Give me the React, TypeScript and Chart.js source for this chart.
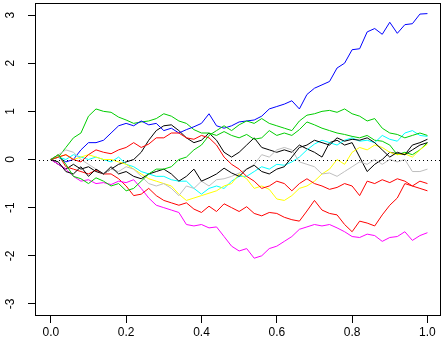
import React, { useEffect, useRef } from "react";
import { Chart, registerables } from "chart.js";

Chart.register(...registerables);

const tValues = [
  0, 0.02, 0.04, 0.06, 0.08, 0.1, 0.12, 0.14, 0.16, 0.18, 0.2, 0.22, 0.24, 0.26, 0.28, 0.3, 0.32, 0.34,
  0.36, 0.38, 0.4, 0.42, 0.44, 0.46, 0.48, 0.5, 0.52, 0.54, 0.56, 0.58, 0.6, 0.62, 0.64, 0.66, 0.68,
  0.7, 0.72, 0.74, 0.76, 0.78, 0.8, 0.82, 0.84, 0.86, 0.88, 0.9, 0.92, 0.94, 0.96, 0.98, 1.0,
];

const blackA = [
  0, -0.1, -0.2, -0.1, -0.2, -0.15, -0.25, -0.3, -0.2, -0.1, -0.05, 0.0, 0.15, 0.4, 0.6, 0.7, 0.72, 0.6,
  0.45, 0.35, 0.4, 0.55, 0.4, 0.15, 0.05, 0.15, 0.3, 0.45, 0.25, 0.2, 0.15, 0.2, 0.15, 0.3, 0.22,
  0.15, 0.05, 0.35, 0.4, 0.3, 0.35, 0.05, -0.25, -0.1, 0.0, 0.15, 0.12, 0.1, 0.3, 0.35, 0.42,
];
const redA = [
  0, 0.1, -0.15, -0.2, -0.25, -0.3, -0.22, -0.3, -0.3, -0.4, -0.55, -0.75, -0.72, -0.6, -0.75, -0.85, -0.9, -0.95,
  -0.9, -1.03, -1.1, -0.97, -1.08, -0.92, -1.0, -1.08, -0.98, -1.12, -1.17, -1.1, -1.12, -1.2, -1.25, -1.28, -1.07,
  -0.85, -1.05, -1.12, -1.15, -1.35, -1.5, -1.28, -1.32, -1.38, -1.15, -0.95, -0.8, -0.5, -0.55, -0.6, -0.65,
];
const greenA = [
  0, 0.05, 0.25, 0.45, 0.55, 0.9, 1.05, 1.0, 0.98, 0.88, 0.82, 0.75, 0.78, 0.8, 0.85, 0.95, 0.9, 0.8,
  0.75, 0.62, 0.55, 0.55, 0.5, 0.58, 0.5, 0.45, 0.52, 0.42, 0.45, 0.6, 0.5, 0.55, 0.5, 0.62, 0.78,
  0.72, 0.65, 0.6, 0.55, 0.52, 0.48, 0.45, 0.5, 0.4, 0.38, 0.3, 0.1, 0.15, 0.1, 0.2, 0.35,
];
const blue = [
  0, 0.05, -0.05, 0.0, 0.2, 0.35, 0.35, 0.4, 0.55, 0.7, 0.75, 0.7, 0.8, 0.72, 0.75, 0.6, 0.65, 0.55,
  0.62, 0.68, 0.75, 0.95, 0.7, 0.65, 0.7, 0.78, 0.8, 0.82, 0.9, 1.05, 1.1, 1.15, 1.22, 1.05, 1.35,
  1.48, 1.55, 1.62, 1.9, 2.0, 2.28, 2.3, 2.65, 2.72, 2.6, 2.85, 2.62, 2.8, 2.82, 3.02, 3.03,
];
const cyan = [
  0, 0.05, 0.0, 0.1, 0.05, 0.0, 0.05, 0.0, -0.05, 0.05, -0.1, -0.15, -0.25, -0.3, -0.35, -0.35, -0.42, -0.45,
  -0.45, -0.6, -0.72, -0.6, -0.55, -0.6, -0.45, -0.35, -0.35, -0.25, -0.15, -0.2, -0.1, -0.12, -0.05, 0.05, 0.2,
  0.32, 0.4, 0.35, 0.3, 0.4, 0.45, 0.38, 0.4, 0.35, 0.5, 0.42, 0.38, 0.55, 0.6, 0.5, 0.48,
];
const magenta = [
  0, -0.1, -0.2, -0.35, -0.45, -0.42, -0.5, -0.48, -0.52, -0.45, -0.48, -0.42, -0.6, -0.8, -0.95, -1.0, -1.05, -1.1,
  -1.35, -1.38, -1.35, -1.42, -1.4, -1.6, -1.8, -1.9, -1.85, -2.05, -2.0, -1.85, -1.8, -1.7, -1.6, -1.45, -1.4,
  -1.35, -1.38, -1.35, -1.42, -1.5, -1.6, -1.62, -1.55, -1.58, -1.7, -1.62, -1.6, -1.5, -1.68, -1.58, -1.52,
];
const yellow = [
  0, 0.05, 0.1, 0.0, 0.05, 0.1, 0.05, 0.0, 0.0, -0.05, -0.1, -0.2, -0.3, -0.4, -0.45, -0.5, -0.55, -0.72,
  -0.85, -0.8, -0.75, -0.7, -0.65, -0.55, -0.5, -0.3, -0.4, -0.6, -0.55, -0.62, -0.82, -0.85, -0.75, -0.6, -0.55,
  -0.45, -0.3, -0.2, 0.0, -0.1, 0.15, 0.25, 0.2, 0.3, 0.25, 0.15, 0.1, 0.12, 0.05, 0.2, 0.32,
];
const gray = [
  0, 0.1, 0.2, 0.15, 0.0, -0.1, -0.2, -0.3, -0.2, -0.25, -0.15, -0.2, -0.35, -0.5, -0.55, -0.5, -0.6, -0.75,
  -0.55, -0.6, -0.45, -0.55, -0.42, -0.4, -0.35, -0.28, -0.2, -0.1, 0.1, 0.05, 0.2, 0.25, 0.2, -0.05, -0.1,
  -0.15, -0.3, -0.28, -0.35, -0.25, -0.15, -0.05, -0.1, 0.0, -0.1, 0.0, -0.05, 0.0, -0.25, -0.25, -0.2,
];
const blackB = [
  0, -0.05, -0.25, -0.3, -0.15, -0.35, -0.2, -0.3, -0.15, -0.3, -0.25, -0.35, -0.4, -0.3, -0.25, -0.2, -0.3, -0.45,
  -0.35, -0.2, -0.45, -0.38, -0.3, -0.18, -0.28, -0.35, -0.2, -0.12, -0.25, -0.3, -0.2, -0.15, 0.05, 0.25, 0.3,
  0.4, 0.35, 0.3, 0.45, 0.38, 0.42, 0.4, 0.45, 0.35, 0.2, 0.05, 0.15, 0.1, 0.2, 0.3, 0.35,
];
const redB = [
  0, 0.05, 0.1, 0.0, -0.05, 0.1, 0.2, 0.15, 0.12, 0.2, 0.25, 0.35, 0.25, 0.32, 0.45, 0.45, 0.55, 0.55,
  0.45, 0.42, 0.5, 0.45, 0.3, 0.05, -0.1, -0.2, -0.35, -0.45, -0.6, -0.55, -0.45, -0.5, -0.65, -0.5, -0.4,
  -0.5, -0.55, -0.62, -0.58, -0.5, -0.55, -0.75, -0.45, -0.5, -0.42, -0.48, -0.4, -0.45, -0.55, -0.45, -0.5,
];
const greenB = [
  0, 0.1, -0.1, -0.35, -0.4, -0.5, -0.38, -0.45, -0.55, -0.5, -0.65, -0.6, -0.45, -0.3, -0.2, -0.2, -0.15, 0.0,
  0.05, 0.2, 0.3, 0.5, 0.6, 0.7, 0.6, 0.72, 0.8, 0.75, 0.85, 0.75, 0.7, 0.65, 0.6, 0.8, 0.92,
  0.95, 1.0, 1.02, 0.98, 1.05, 0.95, 0.9, 0.8, 0.85, 0.65, 0.55, 0.52, 0.45, 0.5, 0.55, 0.5,
];

const seriesList = [blackA, redA, greenA, blue, cyan, magenta, yellow, gray, blackB, redB, greenB];
const seriesColors = [
  "#000000", "#FF0000", "#00CD00", "#0000FF", "#00FFFF", "#FF00FF", "#FFFF00", "#BEBEBE",
  "#000000", "#FF0000", "#00CD00",
];

const xTicks = [0, 0.2, 0.4, 0.6, 0.8, 1.0];
const yTicks = [-3, -2, -1, 0, 1, 2, 3];
const referenceLevel = 0;

const FONT = '"Liberation Sans", Arial, Helvetica, sans-serif';

const rStylePlugin = {
  id: "rStyle",
  afterDatasetsDraw(chart: any) {
    const { ctx, chartArea: a, scales } = chart;
    ctx.save();
    ctx.strokeStyle = "#000";
    ctx.lineWidth = 1;
    const y0 = Math.round(scales.y.getPixelForValue(referenceLevel)) + 0.5;
    ctx.setLineDash([1, 3]);
    ctx.beginPath();
    ctx.moveTo(a.left, y0);
    ctx.lineTo(a.right, y0);
    ctx.stroke();
    ctx.setLineDash([]);
    ctx.strokeRect(a.left + 0.5, a.top + 0.5, a.right - a.left - 1, a.bottom - a.top - 1);
    ctx.fillStyle = "#000";
    ctx.font = `12px ${FONT}`;
    ctx.textAlign = "center";
    ctx.textBaseline = "middle";
    for (const tk of scales.y.ticks) {
      const py = scales.y.getPixelForValue(tk.value);
      ctx.save();
      ctx.translate(11, py);
      ctx.rotate(-Math.PI / 2);
      ctx.fillText(String(tk.value), 0, 0);
      ctx.restore();
    }
    ctx.restore();
  },
};

export default function App() {
  const canvasRef = useRef<HTMLCanvasElement | null>(null);

  useEffect(() => {
    document.body.style.margin = "0";
    const canvas = canvasRef.current;
    if (!canvas) return;
    const datasets = seriesList.map((vals, i) => ({
      label: `path ${i + 1}`,
      data: vals.map((v, j) => ({ x: tValues[j], y: v })),
      borderColor: seriesColors[i],
      backgroundColor: seriesColors[i],
      borderWidth: 1,
      pointRadius: 0,
      tension: 0,
      fill: false,
      order: seriesList.length - i,
    }));
    const chart = new Chart(canvas, {
      type: "line",
      data: { datasets },
      options: {
        animation: false,
        responsive: false,
        maintainAspectRatio: false,
        layout: { padding: { left: 0, top: 3, right: 4, bottom: 0 } },
        plugins: { legend: { display: false }, tooltip: { enabled: false } },
        scales: {
          x: {
            type: "linear",
            min: -0.042,
            max: 1.036,
            afterBuildTicks: (axis: any) => {
              axis.ticks = xTicks.map((v) => ({ value: v }));
            },
            afterFit: (axis: any) => {
              axis.height = 38;
            },
            grid: {
              drawOnChartArea: false,
              drawTicks: true,
              tickLength: 7,
              tickColor: "#000",
              lineWidth: 1,
            },
            border: { display: false },
            ticks: {
              color: "#000",
              font: { family: FONT, size: 12 },
              padding: 2,
              maxRotation: 0,
              minRotation: 0,
              autoSkip: false,
              callback: (v: any) => Number(v).toFixed(1),
            },
          },
          y: {
            type: "linear",
            min: -3.25,
            max: 3.25,
            afterBuildTicks: (axis: any) => {
              axis.ticks = yTicks.map((v) => ({ value: v }));
            },
            afterFit: (axis: any) => {
              axis.width = 35;
            },
            grid: {
              drawOnChartArea: false,
              drawTicks: true,
              tickLength: 7,
              tickColor: "#000",
              lineWidth: 1,
            },
            border: { display: false },
            ticks: { display: false },
          },
        },
      },
      plugins: [rStylePlugin],
    });
    return () => chart.destroy();
  }, []);

  return (
    <div style={{ width: 445, height: 354 }}>
      <canvas ref={canvasRef} width={445} height={354} style={{ display: "block" }} />
    </div>
  );
}
